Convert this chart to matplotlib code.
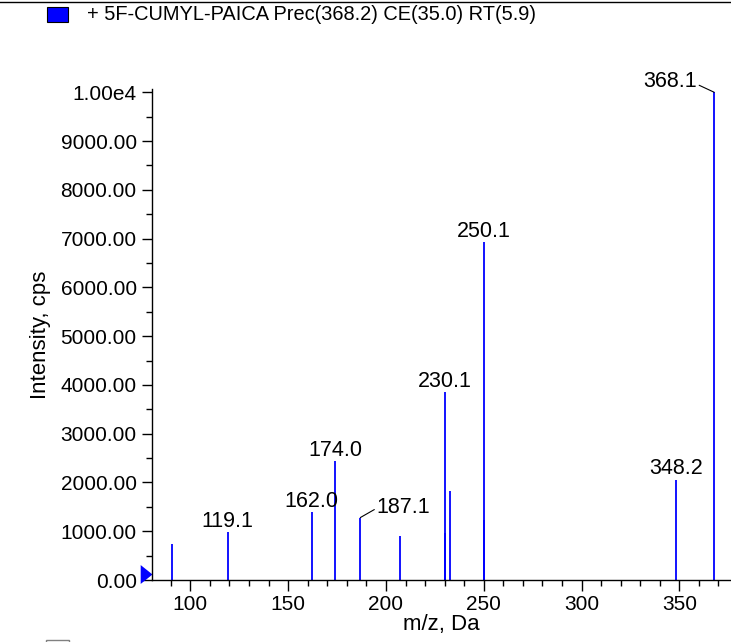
#!/usr/bin/env python3
"""MS/MS product ion spectrum of 5F-CUMYL-PAICA, stick plot."""

import matplotlib
matplotlib.use("Agg")
import matplotlib.pyplot as plt
from matplotlib.patches import Rectangle
from matplotlib.lines import Line2D
from matplotlib.ticker import FixedLocator, FuncFormatter, MultipleLocator

plt.rcParams["font.family"] = ["Liberation Sans", "DejaVu Sans"]

# peak list
mz = [90.8, 119.1, 162.1, 174.0, 186.9, 207.2, 230.0, 230.4, 232.9, 250.1, 250.3, 348.2, 367.8]
intensity = [740, 980, 1400, 2440, 1280, 910, 3860, 960, 1820, 6920, 1230, 2050, 10000]

# labelled peaks
labels = ["119.1", "162.0", "174.0", "187.1", "230.1", "250.1", "348.2", "368.1"]
label_mz = [119.1, 162.1, 174.0, 186.9, 230.0, 250.1, 348.2, 367.8]
# text offset (pixels) from the peak top
label_dx = [0, 0, 0, 43, 0, 0, 0, -44]
label_dy = [5, 5, 5, 5, 5, 5, 6, 5]

y_ticks = [0, 1000, 2000, 3000, 4000, 5000, 6000, 7000, 8000, 9000, 10000]
x_ticks = [100, 150, 200, 250, 300, 350]

title = "+ 5F-CUMYL-PAICA Prec(368.2) CE(35.0) RT(5.9)"


def y_fmt(v, _pos):
    if v >= 10000:
        return "1.00e4"
    return f"{v:.2f}"


def main() -> None:
    fig = plt.figure(figsize=(7.31, 6.42), dpi=100)
    ax = fig.add_axes([152 / 731, 1 - 580 / 642, 1 - 152 / 731, (580 - 89) / 642])

    ax.vlines(mz, 0, intensity, color="#0000ff", linewidth=1.3)

    ax.set_xlim(80.4, 376.4)
    ax.set_ylim(0, 10067)

    for sp in ("top", "right"):
        ax.spines[sp].set_visible(False)
    ax.spines["left"].set_linewidth(1.0)
    ax.spines["bottom"].set_linewidth(1.0)

    ax.yaxis.set_major_locator(FixedLocator(y_ticks))
    ax.yaxis.set_major_formatter(FuncFormatter(y_fmt))
    ax.yaxis.set_minor_locator(MultipleLocator(500))
    ax.xaxis.set_major_locator(FixedLocator(x_ticks))
    ax.xaxis.set_minor_locator(MultipleLocator(10))

    ax.tick_params(axis="both", which="both", direction="out", width=1.0)
    ax.tick_params(axis="x", which="major", length=8, pad=3, labelsize=15)
    ax.tick_params(axis="x", which="minor", length=4)
    ax.tick_params(axis="y", which="major", length=7, pad=4, labelsize=15)
    ax.tick_params(axis="y", which="minor", length=4)

    ax.set_xlabel("m/z, Da", fontsize=16, labelpad=0)
    ax.set_ylabel("Intensity, cps", fontsize=16, labelpad=7)

    peak_h = dict(zip(mz, intensity))
    for txt, x, dx, dy in zip(labels, label_mz, label_dx, label_dy):
        ax.annotate(txt, xy=(x, peak_h[x]), xytext=(dx, dy), textcoords="offset pixels",
                    ha="center", va="baseline", fontsize=15.5)

    # leader lines for the two shifted labels
    ax.annotate("", xy=(186.9, 1280), xytext=(14, 8), textcoords="offset pixels",
                arrowprops=dict(arrowstyle="-", color="black", lw=0.8, shrinkA=0, shrinkB=0))
    ax.annotate("", xy=(367.8, 10000), xytext=(-15, 7), textcoords="offset pixels",
                arrowprops=dict(arrowstyle="-", color="black", lw=0.8, shrinkA=0, shrinkB=0))

    # blue marker at the origin of the y axis
    tri = [(-1, -0.8), (0, 0), (-1, 0.8)]
    ax.plot([0], [120], marker=tri, markersize=17, color="#0000ff",
            transform=ax.get_yaxis_transform(), clip_on=False, markeredgewidth=0)

    # legend box + title text
    fig.patches.append(Rectangle((47 / 731, 1 - 22 / 642), 21 / 731, 15 / 642,
                                 transform=fig.transFigure, facecolor="#0000ff",
                                 edgecolor="black", linewidth=0.8))
    fig.text(87 / 731, 1 - 15 / 642, title, fontsize=14.4, va="center", ha="left")

    # clipped second legend box at the bottom edge
    fig.patches.append(Rectangle((46 / 731, 1 - 654 / 642), 23 / 731, 14 / 642,
                                 transform=fig.transFigure, facecolor="white",
                                 edgecolor="#808080", linewidth=1.0))

    # frame line along the top edge
    fig.lines.append(Line2D([0, 1], [1 - 1.5 / 642, 1 - 1.5 / 642], transform=fig.transFigure,
                            color="black", linewidth=1.0))

    fig.savefig("out.png", dpi=100)
    plt.close(fig)


if __name__ == "__main__":
    main()
